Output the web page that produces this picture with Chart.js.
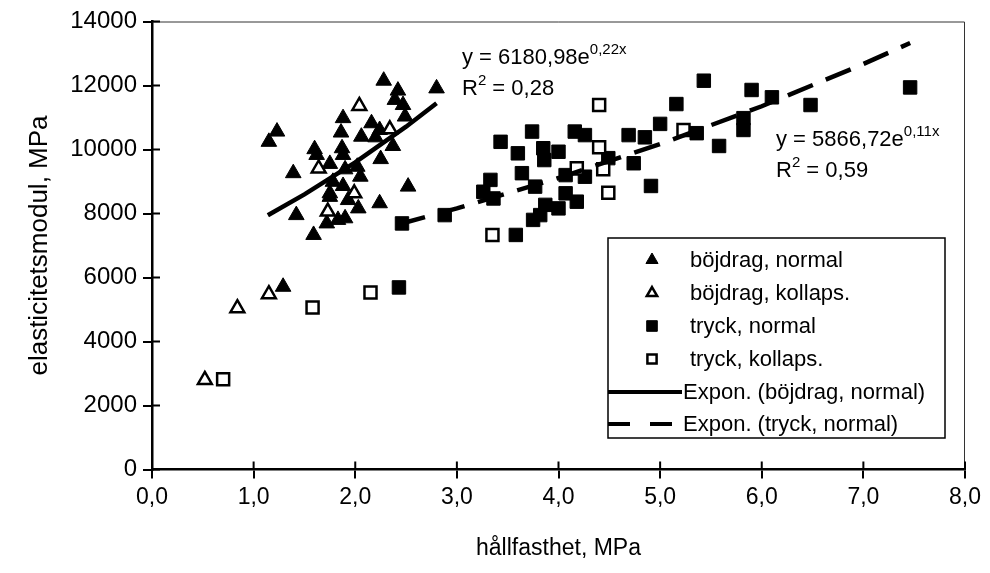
<!DOCTYPE html>
<html>
<head>
<meta charset="utf-8">
<script src="https://cdn.jsdelivr.net/npm/chart.js@4.4.0/dist/chart.umd.min.js"></script>
<style>html,body{margin:0;padding:0;background:#fff}</style>
</head>
<body>
<canvas id="chart" width="990" height="573" style="width:990px;height:573px"></canvas>
<script>
// series (x = hållfasthet MPa, y = elasticitetsmodul MPa)
const bojNormalX = [2.28, 2.42, 2.80, 2.39, 2.47, 2.49, 1.88, 1.86, 2.16, 2.24, 2.06, 2.20, 2.37, 1.87, 1.88, 1.60, 1.62, 1.23, 1.15, 2.25,
                    1.75, 1.39, 2.02, 2.05, 1.90, 1.78, 1.88, 1.75, 1.75, 1.93, 2.03, 2.52, 2.24, 1.42, 1.72, 1.83, 1.90, 1.59, 1.29];
const bojNormalY = [12150, 11840, 11910, 11550, 11390, 11030, 10980, 10530, 10820, 10610, 10400, 10380, 10110, 10040, 9830, 10010, 9830, 10560, 10240, 9700,
                    9550, 9260, 9460, 9150, 9380, 8990, 8860, 8630, 8520, 8420, 8160, 8840, 8320, 7950, 7690, 7800, 7850, 7330, 5710];
const bojKollapsX = [2.04, 2.34, 1.64, 1.99, 1.73, 0.84, 1.15, 0.52];
const bojKollapsY = [11360, 10630, 9410, 8630, 8060, 5040, 5480, 2800];
const tryckNormalX = [2.88, 3.33, 3.26, 3.36, 3.43, 3.74, 3.60, 3.64, 3.85, 3.86, 4.00, 3.77, 4.07, 4.16, 4.26, 4.26, 4.49, 3.87, 4.07, 4.00, 4.18,
                      3.75, 3.82, 3.58, 4.69, 4.74, 2.46, 2.43, 5.43, 5.90, 6.10, 6.48, 5.16, 7.46, 5.00, 5.82, 5.82, 5.36, 4.85, 5.58, 4.91];
const tryckNormalY = [7950, 9050, 8680, 8470, 10240, 10560, 9880, 9260, 10040, 9670, 9930, 8840, 9200, 10560, 10450, 9150, 9730, 8270, 8630, 8160, 8370,
                      7800, 7950, 7330, 10450, 9570, 7690, 5690, 12150, 11860, 11630, 11390, 11420, 11940, 10800, 10980, 10610, 10510, 10380, 10110, 8860];
const tryckKollapsX = [1.58, 2.15, 0.70, 4.40, 4.40, 4.18, 4.44, 4.49, 3.35, 5.23];
const tryckKollapsY = [5060, 5530, 2820, 11390, 10070, 9410, 9380, 8650, 7330, 10610];

// exponential trend lines, as printed on the chart
const trendBojX = [1.14, 1.5, 2.0, 2.5, 2.8];
const trendBojY = [7943, 8598, 9597, 10713, 11445];
const trendTryckX = [2.43, 3, 4, 5, 6, 7, 7.46];
const trendTryckY = [7664, 8161, 9109, 10169, 11351, 12671, 13328];

const xTicks = [0, 1, 2, 3, 4, 5, 6, 7, 8];
const yTicks = [0, 2000, 4000, 6000, 8000, 10000, 12000, 14000];

const FONT = '"Liberation Sans", Arial, Helvetica, sans-serif';

function pts(xs, ys) {
    return xs.map((x, i) => ({x: x, y: ys[i]}));
}

const datasets = [
    {label: 'böjdrag, normal', data: pts(bojNormalX, bojNormalY), pointStyle: 'triangle', pointRadius: 9,
     backgroundColor: '#000', borderColor: '#000', borderWidth: 1, order: 4},
    {label: 'böjdrag, kollaps.', data: pts(bojKollapsX, bojKollapsY), pointStyle: 'triangle', pointRadius: 8,
     backgroundColor: '#fff', borderColor: '#000', borderWidth: 2.5, order: 3},
    {label: 'tryck, normal', data: pts(tryckNormalX, tryckNormalY), pointStyle: 'rect', pointRadius: 9.5,
     backgroundColor: '#000', borderColor: '#000', borderWidth: 1, order: 2},
    {label: 'tryck, kollaps.', data: pts(tryckKollapsX, tryckKollapsY), pointStyle: 'rect', pointRadius: 8.5,
     backgroundColor: '#fff', borderColor: '#000', borderWidth: 2.5, order: 1},
    {label: 'Expon. (böjdrag, normal)', data: pts(trendBojX, trendBojY), showLine: true, pointRadius: 0,
     borderColor: '#000', borderWidth: 4.5, order: 0},
    {label: 'Expon. (tryck, normal)', data: pts(trendTryckX, trendTryckY), showLine: true, pointRadius: 0,
     borderColor: '#000', borderWidth: 4.5, borderDash: [27, 14], order: 0}
];

function supText(ctx, x, y, parts) {
    // parts: [text, isSup]
    parts.forEach(p => {
        ctx.font = p[1] ? '15px ' + FONT : '22px ' + FONT;
        ctx.fillText(p[0], x, p[1] ? y - 10 : y);
        x += ctx.measureText(p[0]).width;
    });
}

const extras = {
    id: 'extras',
    afterDraw(chart) {
        const ctx = chart.ctx, a = chart.chartArea;
        const xs = chart.scales.x, ys = chart.scales.y;
        ctx.save();
        // thin frame on top and right
        ctx.strokeStyle = '#333';
        ctx.lineWidth = 1;
        ctx.beginPath();
        ctx.moveTo(a.left, a.top + 0.5);
        ctx.lineTo(a.right - 0.5, a.top + 0.5);
        ctx.lineTo(a.right - 0.5, a.bottom);
        ctx.stroke();
        // tick marks crossing the axes
        ctx.strokeStyle = '#000';
        ctx.lineWidth = 2;
        ctx.beginPath();
        ys.ticks.forEach(t => {
            const y = ys.getPixelForValue(t.value);
            ctx.moveTo(a.left, y); ctx.lineTo(a.left + 8, y);
        });
        xs.ticks.forEach(t => {
            const x = xs.getPixelForValue(t.value);
            ctx.moveTo(x, a.bottom); ctx.lineTo(x, a.bottom - 8);
        });
        ctx.stroke();

        // trend equations
        ctx.fillStyle = '#000';
        ctx.textBaseline = 'alphabetic';
        ctx.textAlign = 'left';
        supText(ctx, 462, 64, [['y = 6180,98e', false], ['0,22x', true]]);
        supText(ctx, 462, 95, [['R', false], ['2', true], [' = 0,28', false]]);
        supText(ctx, 776, 146, [['y = 5866,72e', false], ['0,11x', true]]);
        supText(ctx, 776, 177, [['R', false], ['2', true], [' = 0,59', false]]);

        // legend box
        const lx = 608, ly = 238, lw = 337, lh = 200;
        ctx.fillStyle = '#fff';
        ctx.fillRect(lx, ly, lw, lh);
        ctx.strokeStyle = '#000';
        ctx.lineWidth = 1.5;
        ctx.strokeRect(lx, ly, lw, lh);
        const rowY = [260, 293, 326, 359, 392, 424];
        ctx.font = '22px ' + FONT;
        ctx.textBaseline = 'middle';
        chart.data.datasets.forEach((ds, i) => {
            const y = rowY[i];
            ctx.fillStyle = '#000';
            if (ds.showLine) {
                ctx.strokeStyle = '#000';
                ctx.lineWidth = 4;
                ctx.setLineDash(ds.borderDash ? [22, 20] : []);
                ctx.beginPath();
                ctx.moveTo(lx, y); ctx.lineTo(lx + 74, y);
                ctx.stroke();
                ctx.setLineDash([]);
                ctx.fillText(ds.label, lx + 75, y + 1);
            } else {
                ctx.fillStyle = ds.backgroundColor;
                ctx.strokeStyle = ds.borderColor;
                ctx.lineWidth = ds.borderWidth;
                Chart.helpers.drawPoint(ctx, {pointStyle: ds.pointStyle, radius: ds.pointRadius - 2,
                    borderWidth: ds.borderWidth, rotation: 0}, lx + 44, y);
                ctx.fillStyle = '#000';
                ctx.fillText(ds.label, lx + 82, y + 1);
            }
        });
        ctx.restore();
    }
};

const ctx = document.getElementById('chart').getContext('2d');
const myChart = new Chart(ctx, {
    type: 'scatter',
    data: {datasets: datasets},
    options: {
        responsive: false,
        animation: false,
        devicePixelRatio: 1,
        layout: {padding: {top: 21.5, right: 25, left: 0, bottom: 0}},
        plugins: {legend: {display: false}, tooltip: {enabled: false}},
        scales: {
            x: {
                type: 'linear', min: 0, max: 8,
                afterBuildTicks: (scale) => { scale.ticks = xTicks.map(v => ({value: v})); },
                ticks: {
                    color: '#000', font: {size: 23, family: FONT}, padding: 5,
                    callback: (v) => Number(v).toFixed(1).replace('.', ',')
                },
                grid: {drawOnChartArea: false, tickLength: 9, color: '#000', lineWidth: 2},
                border: {color: '#000', width: 2.5},
                title: {display: true, text: 'hållfasthet, MPa', color: '#000',
                        font: {size: 23, family: FONT}, padding: {top: 0, bottom: 11}},
                afterFit: (scale) => { scale.height = 103.5; }
            },
            y: {
                type: 'linear', min: 0, max: 14000,
                afterBuildTicks: (scale) => { scale.ticks = yTicks.map(v => ({value: v})); },
                ticks: {
                    color: '#000', font: {size: 24, family: FONT}, padding: 6,
                    callback: (v) => String(v)
                },
                grid: {drawOnChartArea: false, tickLength: 9, color: '#000', lineWidth: 2},
                border: {color: '#000', width: 2.5},
                title: {display: true, text: 'elasticitetsmodul, MPa', color: '#000',
                        font: {size: 26, family: FONT}, padding: {top: 24, bottom: 0}},
                afterFit: (scale) => { scale.width = 152; }
            }
        }
    },
    plugins: [extras]
});
</script>
</body>
</html>
